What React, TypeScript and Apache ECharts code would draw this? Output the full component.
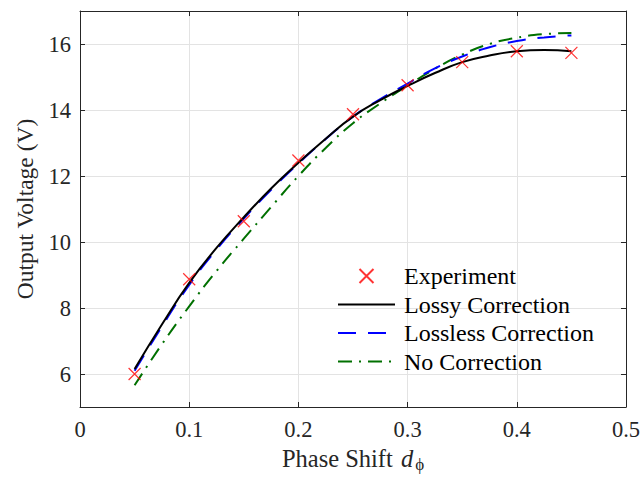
import React, { useEffect, useRef } from "react";
import * as echarts from "echarts";

const curveX = [0.05, 0.075, 0.1, 0.125, 0.15, 0.175, 0.2, 0.225, 0.25, 0.275, 0.3, 0.325, 0.35, 0.375, 0.4, 0.425, 0.45];
const lossyY = [6.15, 7.5, 8.76, 9.82, 10.75, 11.62, 12.4, 13.13, 13.8, 14.3, 14.73, 15.12, 15.45, 15.65, 15.78, 15.82, 15.78];
const losslessY = [6.1, 7.44, 8.7, 9.77, 10.71, 11.58, 12.38, 13.12, 13.8, 14.33, 14.8, 15.26, 15.62, 15.9, 16.09, 16.2, 16.26];
const noCorrY = [5.66, 6.9, 8.05, 9.12, 10.1, 11.06, 12.0, 12.85, 13.6, 14.2, 14.74, 15.25, 15.68, 16.0, 16.19, 16.3, 16.33];

const expX = [0.05, 0.1, 0.15, 0.2, 0.25, 0.3, 0.35, 0.4, 0.45];
const expY = [6.0, 8.87, 10.63, 12.47, 13.87, 14.75, 15.45, 15.78, 15.73];

const seriesNames = ["Experiment", "Lossy Correction", "Lossless Correction", "No Correction"];

const FONT = "Liberation Serif";
const AX = "#262626";

const zip = (xs: number[], ys: number[]) => xs.map((x, i) => [x, ys[i]]);

export default function App() {
  const ref = useRef<HTMLDivElement>(null);
  useEffect(() => {
    if (!ref.current) return;
    const chart = echarts.init(ref.current, undefined, { renderer: "svg" });
    const axisCommon = {
      axisLine: { show: true, onZero: false, lineStyle: { color: AX, width: 1 } },
      axisTick: { show: true, inside: true, length: 5, lineStyle: { color: AX } },
    };
    chart.setOption({
      animation: false,
      backgroundColor: "#ffffff",
      grid: { left: 80, right: 17, top: 11, bottom: 70, containLabel: false, outerBoundsMode: "none" },
      legend: {
        orient: "vertical",
        left: 337,
        top: 262,
        padding: 0,
        itemWidth: 57,
        itemHeight: 14,
        itemGap: 0.5,
        data: seriesNames.map((n, i) => (i === 0 ? { name: n } : { name: n, itemStyle: { opacity: 0 } })),
        textStyle: { fontFamily: FONT, fontSize: 24, color: "#000", lineHeight: 28, padding: [0, 0, 0, 4] },
      },
      xAxis: [
        {
          type: "value",
          min: 0,
          max: 0.5,
          interval: 0.1,
          position: "bottom",
          name: "Phase Shift {i|d}{s|ϕ}",
          nameLocation: "middle",
          nameGap: 34,
          nameTextStyle: {
            fontFamily: FONT,
            fontSize: 24.5,
            color: AX,
            rich: {
              i: { fontFamily: FONT, fontSize: 24.5, fontStyle: "italic", color: AX, padding: [0, 0, 0, 2] },
              s: { fontFamily: FONT, fontSize: 17, color: AX, padding: [12, 0, 0, 2] },
            },
          },
          ...axisCommon,
          axisLabel: { fontFamily: FONT, fontSize: 22.5, color: AX, margin: 11, formatter: (v: number) => String(Math.round(v * 10) / 10) },
          splitLine: { show: true, lineStyle: { color: "#e3e3e3", width: 1 } },
        },
        {
          type: "value",
          min: 0,
          max: 0.5,
          interval: 0.1,
          position: "top",
          ...axisCommon,
          axisLabel: { show: false },
          splitLine: { show: false },
        },
      ],
      yAxis: [
        {
          type: "value",
          min: 5,
          max: 17,
          splitNumber: 6,
          position: "left",
          name: "Output Voltage (V)",
          nameLocation: "middle",
          nameGap: 43,
          nameTextStyle: { fontFamily: FONT, fontSize: 23.5, color: AX },
          ...axisCommon,
          axisLabel: {
            fontFamily: FONT,
            fontSize: 22.5,
            color: AX,
            margin: 9,
            formatter: (v: number) => (Math.round(v) % 2 === 0 ? String(v) : ""),
          },
          splitLine: { show: true, lineStyle: { color: "#e3e3e3", width: 1 } },
        },
        {
          type: "value",
          min: 5,
          max: 17,
          splitNumber: 6,
          position: "right",
          ...axisCommon,
          axisLabel: { show: false },
          splitLine: { show: false },
        },
      ],
      series: [
        {
          name: "No Correction",
          type: "line",
          data: zip(curveX, noCorrY),
          smooth: true,
          symbol: "none",
          z: 2,
          lineStyle: { color: "#007000", width: 2, type: [14, 7, 2, 7] },
          itemStyle: { color: "#007000" },
        },
        {
          name: "Lossless Correction",
          type: "line",
          data: zip(curveX, losslessY),
          smooth: true,
          symbol: "none",
          z: 3,
          lineStyle: { color: "#0000ff", width: 2, type: [18, 12] },
          itemStyle: { color: "#0000ff" },
        },
        {
          name: "Lossy Correction",
          type: "line",
          data: zip(curveX, lossyY),
          smooth: true,
          symbol: "none",
          z: 4,
          lineStyle: { color: "#000000", width: 2 },
          itemStyle: { color: "#000000" },
        },
        {
          name: "Experiment",
          type: "scatter",
          data: zip(expX, expY),
          symbol: "path://M0,0L10,10M0,10L10,0",
          symbolSize: 12,
          z: 5,
          itemStyle: { color: "transparent", borderColor: "#ff0000", borderWidth: 1.2 },
        },
      ],
    });
    return () => chart.dispose();
  }, []);
  return <div ref={ref} style={{ position: "fixed", left: 0, top: 0, width: 643, height: 477 }} />;
}
